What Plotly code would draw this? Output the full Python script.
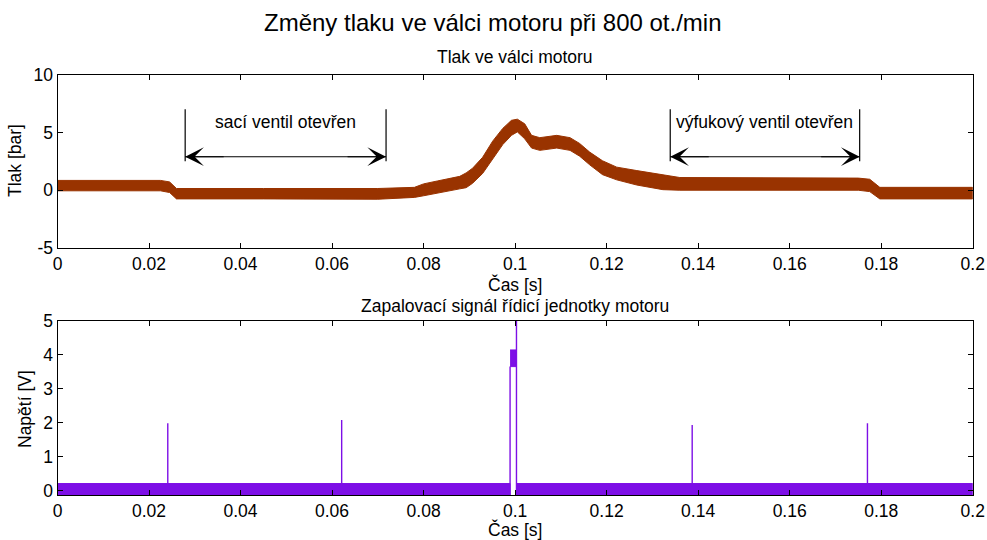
import plotly.graph_objects as go

# ---- Cylinder pressure: envelope of the noisy trace (time [s], low / high [bar]) ----
p_time = [0.000, 0.0225, 0.0245, 0.026, 0.045, 0.070, 0.078, 0.0800, 0.0830, 0.0855,
          0.0879, 0.0893, 0.0907, 0.0929, 0.0951, 0.0973, 0.0992, 0.1005, 0.1021, 0.1036,
          0.1054, 0.1091, 0.1120, 0.1141, 0.1163, 0.1191, 0.1222, 0.1266, 0.1323, 0.1360,
          0.1750, 0.1775, 0.1797, 0.2000]
p_low = [-0.05, -0.05, -0.20, -0.75, -0.75, -0.78, -0.62, -0.48, -0.28, -0.08,
         0.12, 0.22, 0.60, 1.45, 2.65, 3.95, 4.75, 5.05, 4.45, 3.65,
         3.45, 3.65, 3.45, 2.95, 2.20, 1.35, 0.90, 0.45, 0.05, 0.00,
         0.00, -0.12, -0.75, -0.75]
p_high = [0.85, 0.85, 0.72, 0.15, 0.15, 0.15, 0.25, 0.55, 0.80, 1.00,
          1.20, 1.50, 1.90, 2.85, 4.25, 5.35, 6.05, 6.15, 5.75, 4.75,
          4.55, 4.75, 4.55, 4.05, 3.30, 2.55, 2.00, 1.70, 1.30, 1.10,
          1.05, 0.95, 0.25, 0.25]

# ---- Ignition signal of the engine control unit [V] ----
noise_low = -0.13
noise_high = 0.21
spike_times = [0.0241, 0.0621, 0.1387, 0.1770]
spike_heights = [1.98, 2.08, 1.93, 1.98]
pulse_start = 0.0989
pulse_end = 0.1003
pulse_low = 3.65
pulse_high = 4.14
pulse_overshoot = 5.4

# ---- Valve annotations (time span [s], arrow level [bar], text) ----
intake_open = [0.0279, 0.0718]
exhaust_open = [0.1339, 0.1753]
arrow_level = 2.9
bar_range = [2.5, 7.0]
label_level = 5.9
intake_text = "sací ventil otevřen"
exhaust_text = "výfukový ventil otevřen"

# ---- Axes ----
t_range = [0, 0.2]
t_ticks = [0, 0.02, 0.04, 0.06, 0.08, 0.1, 0.12, 0.14, 0.16, 0.18, 0.2]
t_labels = ["0", "0.02", "0.04", "0.06", "0.08", "0.1", "0.12", "0.14", "0.16", "0.18", "0.2"]
p_range = [-5, 10]
p_ticks = [-5, 0, 5, 10]
p_labels = ["-5", "0", "5", "10"]
u_range = [-0.127, 5]
u_ticks = [0, 1, 2, 3, 4, 5]
u_labels = ["0", "1", "2", "3", "4", "5"]

main_title = "Změny tlaku ve válci motoru při 800 ot./min"
top_title = "Tlak ve válci motoru"
bottom_title = "Zapalovací signál řídicí jednotky motoru"
x_title = "Čas [s]"
p_title = "Tlak [bar]"
u_title = "Napětí [V]"

BROWN = "#993300"
PURPLE = "#7D0FE6"
FONT = "Liberation Sans, Arial, sans-serif"
W, H = 987, 540

fig = go.Figure()

# pressure band
fig.add_trace(go.Scatter(
    x=p_time + p_time[::-1], y=p_high + p_low[::-1],
    fill="toself", fillcolor=BROWN, line=dict(color=BROWN, width=1),
    mode="lines", xaxis="x", yaxis="y", hoverinfo="skip", showlegend=False))

# ignition signal: baseline noise band on both sides of the pulse
for seg in ([t_range[0], pulse_start], [pulse_end, t_range[1]]):
    fig.add_trace(go.Scatter(
        x=[seg[0], seg[1], seg[1], seg[0]],
        y=[noise_high, noise_high, noise_low, noise_low],
        fill="toself", fillcolor=PURPLE, line=dict(color=PURPLE, width=1),
        mode="lines", xaxis="x2", yaxis="y2", hoverinfo="skip", showlegend=False))

# pulse plateau
fig.add_trace(go.Scatter(
    x=[pulse_start, pulse_end, pulse_end, pulse_start],
    y=[pulse_high, pulse_high, pulse_low, pulse_low],
    fill="toself", fillcolor=PURPLE, line=dict(color=PURPLE, width=1),
    mode="lines", xaxis="x2", yaxis="y2", hoverinfo="skip", showlegend=False))

# pulse edges and isolated spikes
sx, sy = [], []
for t, h in zip(spike_times, spike_heights):
    sx += [t, t, None]
    sy += [noise_high, h, None]
sx += [pulse_start, pulse_start, None, pulse_end, pulse_end]
sy += [noise_low, pulse_low, None, noise_low, pulse_overshoot]
fig.add_trace(go.Scatter(
    x=sx, y=sy, mode="lines", line=dict(color=PURPLE, width=1.4),
    xaxis="x2", yaxis="y2", hoverinfo="skip", showlegend=False))

# valve markers: end bars, double-headed arrow, label
shapes = []
annotations = []
for span, text in ((intake_open, intake_text), (exhaust_open, exhaust_text)):
    for t in span:
        shapes.append(dict(type="line", xref="x", yref="y", x0=t, x1=t,
                           y0=bar_range[0], y1=bar_range[1],
                           line=dict(color="black", width=1.2)))
    shapes.append(dict(type="line", xref="x", yref="y", x0=span[0], x1=span[1],
                       y0=arrow_level, y1=arrow_level,
                       line=dict(color="black", width=1.2)))
    for t, off in ((span[0], 40), (span[1], -40)):
        annotations.append(dict(x=t, y=arrow_level, ax=off, ay=0,
                                xref="x", yref="y",
                                text="", showarrow=True, arrowhead=3,
                                arrowsize=2.6, arrowwidth=1.2, arrowcolor="black",
                                standoff=0))
    annotations.append(dict(x=(span[0] + span[1]) / 2, y=label_level, xref="x", yref="y",
                            text=text, showarrow=False,
                            font=dict(size=17.5, color="black", family=FONT)))

# titles and axis labels
xl, xr = 57.5, 972.7
cx = (xl + xr) / 2 / W


def py(px):
    return 1 - px / H


annotations += [
    dict(x=0.4995, y=py(22), xref="paper", yref="paper", text=main_title,
         showarrow=False, yanchor="middle", font=dict(size=24, family=FONT, color="black")),
    dict(x=cx, y=py(57), xref="paper", yref="paper", text=top_title,
         showarrow=False, yanchor="middle", font=dict(size=17.5, family=FONT, color="black")),
    dict(x=cx, y=py(284.5), xref="paper", yref="paper", text=x_title,
         showarrow=False, yanchor="middle", font=dict(size=17.5, family=FONT, color="black")),
    dict(x=cx, y=py(305.5), xref="paper", yref="paper", text=bottom_title,
         showarrow=False, yanchor="middle", font=dict(size=17.5, family=FONT, color="black")),
    dict(x=cx, y=py(529), xref="paper", yref="paper", text=x_title,
         showarrow=False, yanchor="middle", font=dict(size=17.5, family=FONT, color="black")),
    dict(x=15 / W, y=py(161), xref="paper", yref="paper", text=p_title, textangle=-90,
         showarrow=False, xanchor="center", yanchor="middle",
         font=dict(size=17.5, family=FONT, color="black")),
    dict(x=25 / W, y=py(409), xref="paper", yref="paper", text=u_title, textangle=-90,
         showarrow=False, xanchor="center", yanchor="middle",
         font=dict(size=17.5, family=FONT, color="black")),
]

axis_common = dict(showline=True, linecolor="black", linewidth=1, mirror="allticks",
                   ticks="inside", ticklen=5, tickcolor="black", showgrid=False,
                   zeroline=False, automargin=False,
                   tickfont=dict(size=17.5, family=FONT, color="black"))

fig.update_layout(
    width=W, height=H, margin=dict(l=0, r=0, t=0, b=0, autoexpand=False),
    paper_bgcolor="white", plot_bgcolor="white", showlegend=False,
    shapes=shapes, annotations=annotations,
    xaxis=dict(domain=[xl / W, xr / W], anchor="y", range=t_range,
               tickvals=t_ticks, ticktext=t_labels, **axis_common),
    yaxis=dict(domain=[py(248), py(74.7)], anchor="x", range=p_range,
               tickvals=p_ticks, ticktext=p_labels, **axis_common),
    xaxis2=dict(domain=[xl / W, xr / W], anchor="y2", range=t_range,
                tickvals=t_ticks, ticktext=t_labels, **axis_common),
    yaxis2=dict(domain=[py(495), py(320.7)], anchor="x2", range=u_range,
                tickvals=u_ticks, ticktext=u_labels, **axis_common),
)

fig.write_html("out.html")
